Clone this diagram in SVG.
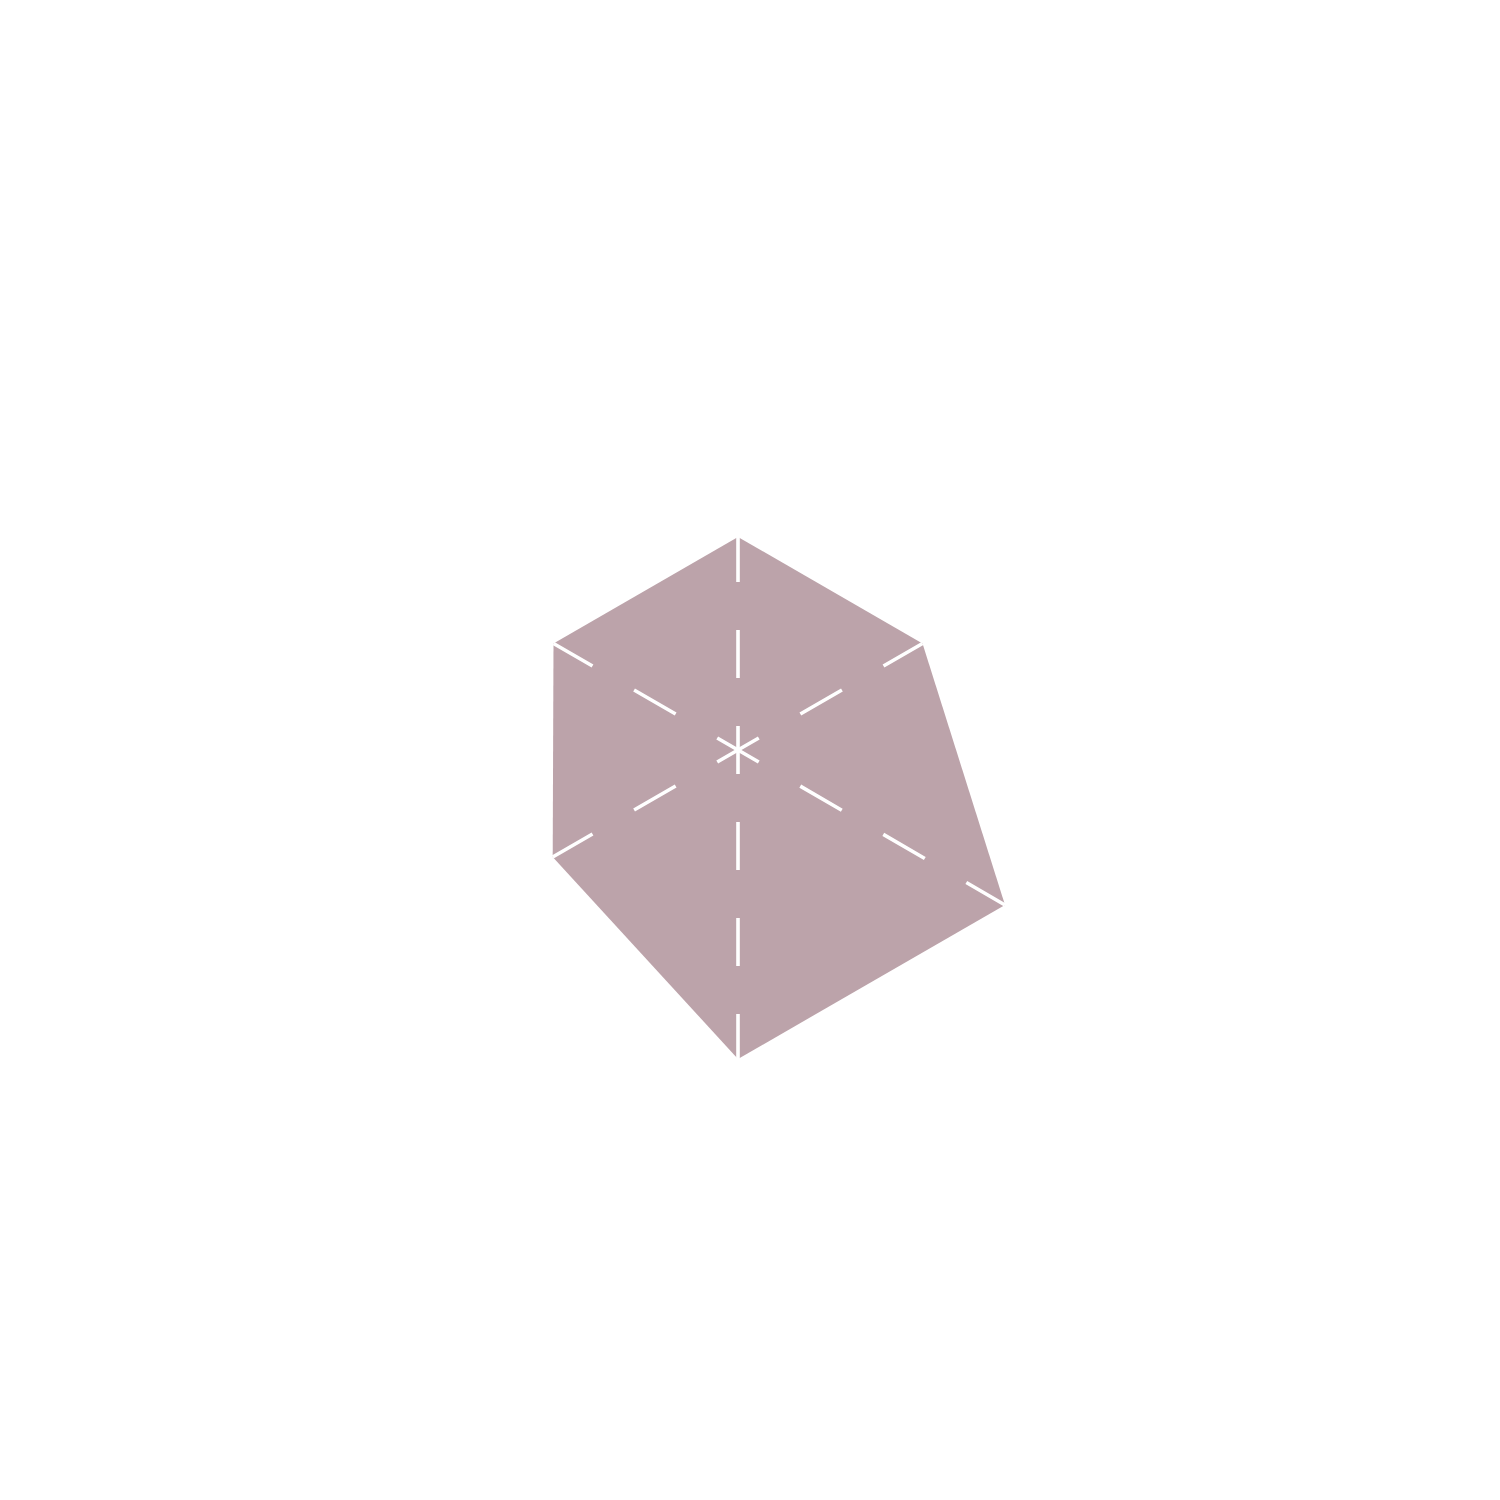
<svg xmlns="http://www.w3.org/2000/svg" width="1500" height="1500" viewBox="0 0 1500 1500">
<style>
.area{fill:#BCA3AA;stroke:none}
.axis{stroke:#FFFFFF;stroke-width:3.6;stroke-dasharray:48 48;stroke-dashoffset:24;fill:none}
</style>
<rect width="1500" height="1500" fill="#FFFFFF"/>
<g id="radar-area">
<polygon class="area" points="738,537 922.5,643.5 1005,905 738,1059 552.7,857 553.5,643.5"/>
</g>
<g id="axes">
<line class="axis" x1="738" y1="750" x2="738" y2="537"/>
<line class="axis" x1="738" y1="750" x2="922.5" y2="643.5"/>
<line class="axis" x1="738" y1="750" x2="1005" y2="905"/>
<line class="axis" x1="738" y1="750" x2="738" y2="1059"/>
<line class="axis" x1="738" y1="750" x2="552.7" y2="857"/>
<line class="axis" x1="738" y1="750" x2="553.5" y2="643.5"/>
</g>
</svg>
